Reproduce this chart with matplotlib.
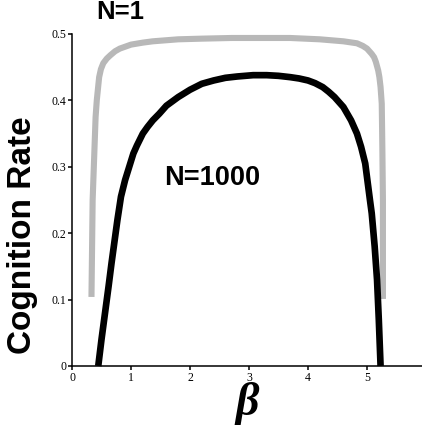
import matplotlib.pyplot as plt

# N=1 curve (gray)
beta_n1 = [0.33, 0.35, 0.37, 0.40, 0.42, 0.46, 0.49, 0.53, 0.59, 0.65, 0.73, 0.81,
           1.0, 1.2, 1.37, 1.8, 2.2, 2.7, 3.2, 3.7, 4.2, 4.6, 4.83, 4.93, 5.0,
           5.08, 5.12, 5.15, 5.19, 5.21, 5.23, 5.25, 5.26, 5.27, 5.27]
rate_n1 = [0.104, 0.25, 0.30, 0.375, 0.40, 0.435, 0.447, 0.456, 0.463, 0.468,
           0.474, 0.478, 0.484, 0.487, 0.489, 0.492, 0.493, 0.494, 0.494, 0.494,
           0.492, 0.489, 0.486, 0.482, 0.478, 0.47, 0.465, 0.458, 0.445, 0.435,
           0.42, 0.395, 0.33, 0.25, 0.101]

# N=1000 curve (black)
beta_n1000 = [0.445, 0.5, 0.56, 0.62, 0.67, 0.77, 0.83, 0.9, 0.97, 1.04, 1.1,
              1.2, 1.28, 1.37, 1.48, 1.6, 1.8, 2.0, 2.2, 2.4, 2.6, 2.8, 3.07,
              3.3, 3.5, 3.7, 3.85, 4.0, 4.12, 4.25, 4.35, 4.45, 4.6, 4.73, 4.83,
              4.9, 4.97, 5.05, 5.08, 5.13, 5.17, 5.2, 5.23]
rate_n1000 = [0.0, 0.04, 0.08, 0.12, 0.155, 0.22, 0.255, 0.28, 0.30, 0.32,
              0.332, 0.35, 0.36, 0.37, 0.38, 0.392, 0.405, 0.416, 0.425, 0.43,
              0.434, 0.436, 0.438, 0.438, 0.437, 0.435, 0.433, 0.43, 0.426,
              0.42, 0.413, 0.405, 0.39, 0.37, 0.35, 0.33, 0.305, 0.25, 0.23,
              0.18, 0.13, 0.07, 0.0]

xticks = [0, 1, 2, 3, 4, 5]
yticks = [0, 0.1, 0.2, 0.3, 0.4, 0.5]
yticklabels = ["0", "0.1", "0.2", "0.3", "0.4", "0.5"]

fig = plt.figure(figsize=(4.22, 4.32), dpi=100)
ax = fig.add_axes([72/422, 66/432, 354/422, 332/432])

ax.plot(beta_n1, rate_n1, color="#b8b8b8", lw=4.4, solid_capstyle="butt",
        solid_joinstyle="round", clip_on=False)
ax.plot(beta_n1000, rate_n1000, color="black", lw=4.8, solid_capstyle="butt",
        solid_joinstyle="round", clip_on=False)

ax.set_xlim(0, 6)
ax.set_ylim(0, 0.5)
ax.spines["top"].set_visible(False)
ax.spines["right"].set_visible(False)
ax.spines["left"].set_linewidth(1.1)
ax.spines["bottom"].set_linewidth(1.1)

ax.set_xticks(xticks)
ax.set_xticklabels([str(t) for t in xticks])
ax.set_yticks(yticks)
ax.set_yticklabels(yticklabels)
ax.tick_params(direction="out", length=3, width=1.1, pad=1, labelsize=8.5)
for lab in ax.get_xticklabels() + ax.get_yticklabels():
    lab.set_family("Liberation Serif")

fig.text(0.284, 0.972, "N=1", fontsize=18.5, fontweight="bold",
         family="Liberation Sans", ha="center", va="center")
ax.text(2.37, 0.283, "N=1000", fontsize=19.5, fontweight="bold",
        family="Liberation Sans", ha="center", va="center")
fig.text(0.054, 0.455, "Cognition Rate", fontsize=24, fontweight="bold",
         family="Liberation Sans", rotation=90, ha="center", va="center")
fig.text(0.585, 0.065, "β", fontsize=33, fontweight="bold", style="italic",
         family="Liberation Serif", ha="center", va="center")

fig.savefig("out.png", dpi=100)
